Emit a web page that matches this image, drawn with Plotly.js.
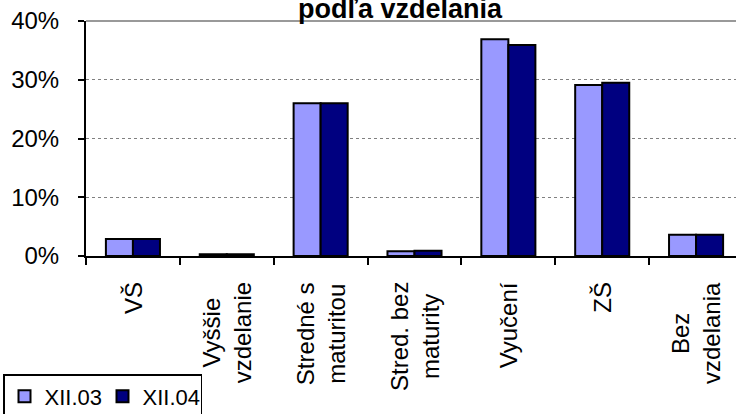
<!DOCTYPE html>
<html>
<head>
<meta charset="utf-8">
<script src="https://cdn.plot.ly/plotly-3.0.1.min.js"></script>
<style>
html, body { margin: 0; padding: 0; overflow: hidden; background: #fff; }
#chart { width: 744px; height: 414px; }
</style>
</head>
<body>
<div id="chart"></div>
<script>
const categories = ["VŠ", "Vyššie vzdelanie", "Stredné s maturitou", "Stred. bez maturity", "Vyučení", "ZŠ", "Bez vzdelania"];
const categoryLabels = ["VŠ", "Vyššie<br>vzdelanie", "Stredné s<br>maturitou", "Stred. bez<br>maturity", "Vyučení", "ZŠ", "Bez<br>vzdelania"];
const seriesNames = ["XII.03", "XII.04"];
const valuesXII03 = [0.029, 0.003, 0.260, 0.008, 0.369, 0.291, 0.036];
const valuesXII04 = [0.029, 0.003, 0.260, 0.009, 0.359, 0.295, 0.036];
const yTickValues = [0, 0.1, 0.2, 0.3, 0.4];
const yTickLabels = ["0%", "10%", "20%", "30%", "40%"];
const titleText = "podľa vzdelania";

const FONT = "Arial, 'Liberation Sans', sans-serif";

const traces = [
  {
    type: "bar", name: seriesNames[0], x: categories, y: valuesXII03,
    marker: { color: "#9999FF", line: { color: "#000000", width: 2 } },
    hoverinfo: "skip"
  },
  {
    type: "bar", name: seriesNames[1], x: categories, y: valuesXII04,
    marker: { color: "#000080", line: { color: "#000000", width: 2 } },
    hoverinfo: "skip"
  }
];

const annotations = categories.map((c, i) => ({
  x: c, xref: "x", y: 0, yref: "paper",
  text: categoryLabels[i], showarrow: false,
  textangle: -90, align: "center",
  xanchor: "center", yanchor: "top", yshift: -24,
  font: { family: FONT, size: 24, color: "#000" }
}));

const layout = {
  width: 744, height: 414,
  margin: { l: 86, r: 1, t: 21, b: 158, pad: 0 },
  paper_bgcolor: "#ffffff", plot_bgcolor: "#ffffff",
  font: { family: FONT, color: "#000" },
  title: {
    text: "<b>" + titleText + "</b>",
    font: { family: FONT, size: 27, color: "#000" },
    xref: "container", x: 400 / 744, xanchor: "center",
    yref: "container", y: 1 - 18 / 414, yanchor: "bottom"
  },
  barmode: "group", bargap: 0.424, bargroupgap: 0,
  showlegend: true,
  legend: {
    orientation: "h",
    xref: "container", yref: "container",
    x: 3 / 744, y: 1 - 374 / 414, xanchor: "left", yanchor: "top",
    bordercolor: "#000", borderwidth: 1.5, bgcolor: "#fff",
    font: { family: FONT, size: 22, color: "#000" },
    entrywidth: 53, entrywidthmode: "pixels",
    traceorder: "normal"
  },
  xaxis: {
    type: "category",
    showticklabels: false,
    ticks: "outside", tickson: "boundaries", ticklen: 7, tickwidth: 2, tickcolor: "#000",
    showline: true, linecolor: "#000", linewidth: 2,
    showgrid: false, zeroline: false, fixedrange: true
  },
  yaxis: {
    range: [0, 0.4],
    tickvals: yTickValues, ticktext: yTickLabels,
    ticks: "outside", ticklen: 6, tickwidth: 2, tickcolor: "#000",
    ticklabelstandoff: 14,
    tickfont: { family: FONT, size: 24, color: "#000" },
    showline: true, linecolor: "#000", linewidth: 2,
    showgrid: true, gridcolor: "#808080", gridwidth: 1, griddash: "dot",
    zeroline: false, fixedrange: true
  },
  shapes: [
    { type: "line", xref: "paper", yref: "paper", x0: 0, x1: 1, y0: 1, y1: 1,
      line: { color: "#999999", width: 2 } }
  ],
  annotations: annotations
};

Plotly.newPlot("chart", traces, layout, { displayModeBar: false, staticPlot: true });
</script>
</body>
</html>
